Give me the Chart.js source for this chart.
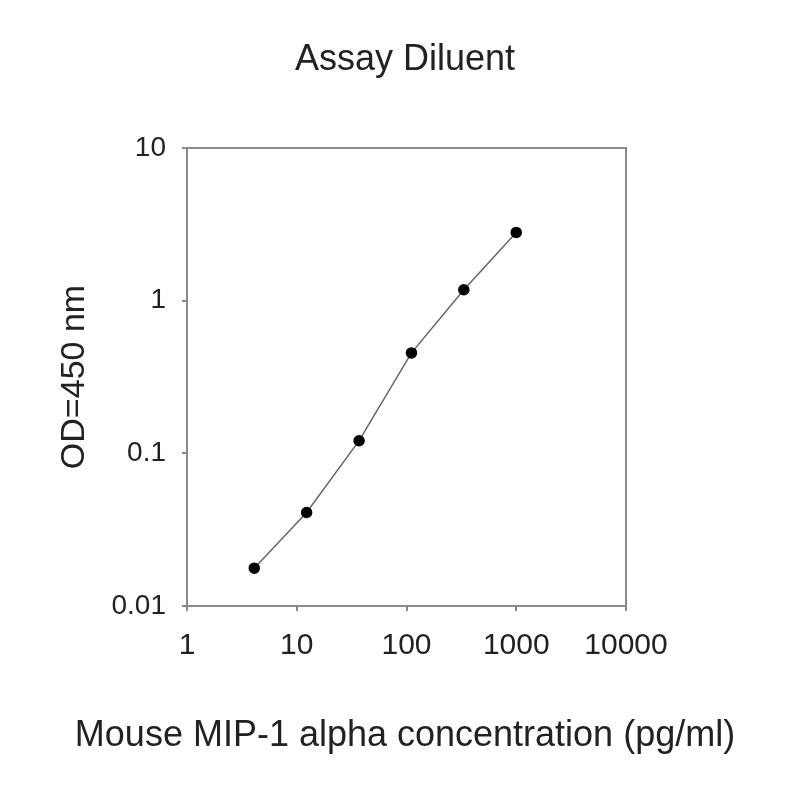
<!DOCTYPE html>
<html>
<head>
<meta charset="utf-8">
<script src="https://cdn.jsdelivr.net/npm/chart.js@4"></script>
<style>
  body { margin: 0; background: #fff; }
  canvas { display: block; }
</style>
</head>
<body>
<canvas id="myChart" width="800" height="800"></canvas>
<script>
// concentration (pg/ml) and OD
var concentrations = [4.1, 12.3, 37, 111, 333, 1000];
var odValues = [0.0177, 0.041, 0.121, 0.455, 1.18, 2.8];

// tick labels of both log axes
var xTicks = [1, 10, 100, 1000, 10000];
var yTicks = [0.01, 0.1, 1, 10];

var points = concentrations.map(function (c, i) {
  return { x: c, y: odValues[i] };
});

var fontFamily = "'Liberation Sans', Arial, sans-serif";

// box round the plot area (top and right sides too)
var boxPlugin = {
  id: "box",
  afterDraw: function (chart) {
    var a = chart.chartArea;
    var ctx = chart.ctx;
    ctx.save();
    ctx.strokeStyle = "#8a8a8a";
    ctx.lineWidth = 2;
    ctx.strokeRect(a.left, a.top, a.right - a.left, a.bottom - a.top);
    ctx.restore();
  },
};

var ctx = document.getElementById("myChart").getContext("2d");
var myChart = new Chart(ctx, {
  type: "scatter",
  data: {
    datasets: [
      {
        data: points,
        showLine: true,
        borderColor: "#666666",
        borderWidth: 1.5,
        backgroundColor: "#000000",
        pointBackgroundColor: "#000000",
        pointBorderColor: "#000000",
        pointRadius: 5,
        tension: 0,
      },
    ],
  },
  options: {
    responsive: false,
    animation: false,
    layout: { padding: { left: 10, right: 0, top: 0, bottom: 0 } },
    plugins: {
      legend: { display: false },
      tooltip: { enabled: false },
      title: {
        display: true,
        text: "Assay Diluent",
        color: "#222",
        font: { family: fontFamily, size: 36, weight: "normal" },
        padding: { top: 38, bottom: 66.8 },
      },
      // the x axis title is wider than the plot, so it goes in the subtitle box
      subtitle: {
        display: true,
        position: "bottom",
        text: "Mouse MIP-1 alpha concentration (pg/ml)",
        color: "#222",
        font: { family: fontFamily, size: 36, weight: "normal" },
        padding: { top: 0, bottom: 42.4 },
      },
    },
    scales: {
      x: {
        type: "logarithmic",
        min: 1,
        max: 10000,
        afterBuildTicks: function (scale) {
          scale.ticks = xTicks.map(function (v) { return { value: v }; });
        },
        afterFit: function (scale) { scale.height = 108.4; },
        ticks: {
          callback: function (v) { return String(v); },
          color: "#222",
          font: { family: fontFamily, size: 30 },
          padding: 17,
          maxRotation: 0,
          autoSkip: false,
        },
        grid: { drawOnChartArea: false, drawTicks: true, tickLength: 5, color: "#8a8a8a", lineWidth: 2 },
        border: { display: true, color: "#8a8a8a", width: 2 },
      },
      y: {
        type: "logarithmic",
        min: 0.01,
        max: 10,
        afterBuildTicks: function (scale) {
          scale.ticks = yTicks.map(function (v) { return { value: v }; });
        },
        afterFit: function (scale) { scale.width = 177; },
        ticks: {
          callback: function (v) { return String(v); },
          color: "#222",
          font: { family: fontFamily, size: 28 },
          padding: 16,
          autoSkip: false,
        },
        grid: { drawOnChartArea: false, drawTicks: true, tickLength: 5, color: "#8a8a8a", lineWidth: 2 },
        border: { display: true, color: "#8a8a8a", width: 2 },
        title: {
          display: true,
          text: "OD=450 nm",
          color: "#222",
          font: { family: fontFamily, size: 34 },
          padding: { top: 44, bottom: 0 },
        },
      },
      // empty axis that only reserves the white band right of the plot
      yRight: {
        type: "linear",
        position: "right",
        display: true,
        afterFit: function (scale) { scale.width = 174; },
        ticks: { display: false },
        grid: { display: false },
        border: { display: false },
      },
    },
  },
  plugins: [boxPlugin],
});
</script>
</body>
</html>
